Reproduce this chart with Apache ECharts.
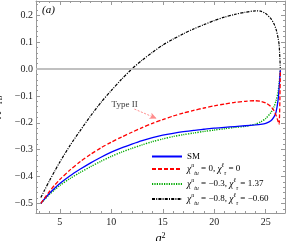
<!DOCTYPE html>
<html><head><meta charset="utf-8">
<script src="https://cdn.jsdelivr.net/npm/echarts@6/dist/echarts.min.js"></script>
<style>html,body{margin:0;padding:0;background:#fff}#c{width:288px;height:241px}</style>
</head><body><div id="c"></div>
<script>
// ---- data ----
const q2 = [3.16, 3.5, 4, 4.5, 5, 6, 7, 8, 9, 10, 11, 12, 13, 14, 15, 16, 17, 18, 19, 20, 21, 22, 23, 24, 24.5, 25, 25.5, 25.8, 26.0, 26.2, 26.3, 26.42];
const smVals = [-0.500,-0.484,-0.462,-0.443,-0.426,-0.397,-0.372,-0.349,-0.328,-0.309,-0.293,-0.279,-0.266,-0.255,-0.246,-0.239,-0.233,-0.228,-0.224,-0.220,-0.217,-0.214,-0.211,-0.208,-0.206,-0.202,-0.192,-0.178,-0.160,-0.115,-0.070,0];
const redVals = [-0.500,-0.481,-0.455,-0.432,-0.411,-0.375,-0.344,-0.317,-0.293,-0.272,-0.253,-0.235,-0.218,-0.202,-0.188,-0.175,-0.164,-0.154,-0.145,-0.137,-0.130,-0.124,-0.120,-0.118,-0.120,-0.126,-0.140,-0.155,-0.172,-0.195,-0.205,0];
const greenVals = [-0.500,-0.486,-0.466,-0.449,-0.433,-0.407,-0.384,-0.363,-0.343,-0.325,-0.309,-0.295,-0.282,-0.270,-0.260,-0.251,-0.244,-0.238,-0.232,-0.227,-0.222,-0.217,-0.213,-0.205,-0.197,-0.184,-0.162,-0.140,-0.118,-0.085,-0.055,0];
const blackVals = [-0.478,-0.452,-0.415,-0.380,-0.346,-0.284,-0.228,-0.174,-0.124,-0.080,-0.038,0.000,0.033,0.062,0.089,0.111,0.131,0.149,0.165,0.180,0.193,0.203,0.211,0.216,0.215,0.206,0.187,0.168,0.148,0.115,0.090,0];

const xTickValues = [5, 10, 15, 20, 25];
const xTickLabels = ['5', '10', '15', '20', '25'];
const xMinorValues = [3,4,6,7,8,9,11,12,13,14,16,17,18,19,21,22,23,24,26];
const yTickValues = [-0.5, -0.4, -0.3, -0.2, -0.1, 0, 0.1, 0.2];
const yTickLabels = ['\u22120.5', '\u22120.4', '\u22120.3', '\u22120.2', '\u22120.1', '0.0', '0.1', '0.2'];
const yMinorValues = [-0.52,-0.48,-0.46,-0.44,-0.42,-0.38,-0.36,-0.34,-0.32,-0.28,-0.26,-0.24,-0.22,-0.18,-0.16,-0.14,-0.12,-0.08,-0.06,-0.04,-0.02,0.02,0.04,0.06,0.08,0.12,0.14,0.16,0.18,0.22,0.24];

const names = ['SM', 'r', 'g', 'k'];
const typeIIText = [11.3, -0.134];
const arrowFrom = [12.25, -0.149];
const arrowTo = [14.4, -0.184];

const X_MIN = 2.69, X_MAX = 26.87, Y_MIN = -0.5353, Y_MAX = 0.2528;
const FONT = 'Liberation Serif';
const FRAME = '#999';

function pair(vals) { return q2.map((x, i) => [x, vals[i]]); }

const legendLabels = {
  SM: '{n|SM}',
  r: '{i|\u03c7}{sup|u}{sub|tu}{n| = 0, }{i|\u03c7}{sup|\u2113}{sub|\u03c4}{n| = 0}',
  g: '{i|\u03c7}{sup|u}{sub|tu}{n| = \u22120.3, }{i|\u03c7}{sup|\u2113}{sub|\u03c4}{n| = 1.37}',
  k: '{i|\u03c7}{sup|u}{sub|tu}{n| = \u22120.8, }{i|\u03c7}{sup|\u2113}{sub|\u03c4}{n| = \u22120.60}'
};
const rich = {
  n: {fontFamily: FONT, fontSize: 9, lineHeight: 14, color: '#000'},
  i: {fontFamily: FONT, fontSize: 9.5, fontStyle: 'italic', lineHeight: 14, color: '#000'},
  sup: {fontFamily: FONT, fontSize: 6, fontStyle: 'italic', lineHeight: 8, verticalAlign: 'top', color: '#000'},
  sub: {fontFamily: FONT, fontSize: 6, fontStyle: 'italic', lineHeight: 8, verticalAlign: 'bottom', color: '#000'}
};

function xAxisDef(pos, ticks, len, labels, line) {
  return {
    type: 'value', min: X_MIN, max: X_MAX, position: pos, gridIndex: 0,
    axisLine: {show: line, onZero: false, lineStyle: {color: FRAME, width: 1}},
    axisTick: {show: true, inside: true, length: len, customValues: ticks, lineStyle: {color: FRAME}},
    axisLabel: labels ? {show: true, customValues: xTickValues, margin: 4,
      formatter: v => xTickLabels[xTickValues.indexOf(Math.round(v))] || '',
      fontFamily: FONT, fontSize: 10, color: '#222'} : {show: false},
    splitLine: {show: false}
  };
}
function yAxisDef(pos, ticks, len, labels, line) {
  return {
    type: 'value', min: Y_MIN, max: Y_MAX, position: pos, gridIndex: 0,
    axisLine: {show: line, onZero: false, lineStyle: {color: FRAME, width: 1}},
    axisTick: {show: true, inside: true, length: len, customValues: ticks, lineStyle: {color: FRAME}},
    axisLabel: labels ? {show: true, customValues: yTickValues, margin: 3,
      formatter: v => { const k = yTickValues.findIndex(t => Math.abs(t - v) < 1e-6); return k >= 0 ? yTickLabels[k] : ''; },
      fontFamily: FONT, fontSize: 10, color: '#222'} : {show: false},
    splitLine: {show: false}
  };
}

const xAx = [xAxisDef('bottom', xTickValues, 4, true, true), xAxisDef('bottom', xMinorValues, 2, false, false),
             xAxisDef('top', xTickValues, 4, false, true), xAxisDef('top', xMinorValues, 2, false, false)];
xAx[0].name = '{i|q}{sup|2}';
xAx[0].nameLocation = 'middle';
xAx[0].nameGap = 13;
xAx[0].nameTextStyle = {color: '#000', rich: {
  i: {fontFamily: FONT, fontSize: 12, fontStyle: 'italic', lineHeight: 14, color: '#000'},
  sup: {fontFamily: FONT, fontSize: 8, lineHeight: 9, verticalAlign: 'top', color: '#000'}}};
const yAx = [yAxisDef('left', yTickValues, 4, true, true), yAxisDef('left', yMinorValues, 2, false, false),
             yAxisDef('right', yTickValues, 4, false, true), yAxisDef('right', yMinorValues, 2, false, false)];
yAx[0].name = '{i|A}{sup|\u03c0,\u03c4}{sub|FB}';
yAx[0].nameLocation = 'middle';
yAx[0].nameGap = 27;
yAx[0].nameRotate = 90;
yAx[0].nameTextStyle = {color: '#000', rich: {
  i: {fontFamily: FONT, fontSize: 11, fontStyle: 'italic', lineHeight: 12, color: '#000'},
  sup: {fontFamily: FONT, fontSize: 7, fontStyle: 'italic', lineHeight: 7, verticalAlign: 'top', color: '#000'},
  sub: {fontFamily: FONT, fontSize: 7, lineHeight: 7, verticalAlign: 'bottom', color: '#000'}}};

function lineSeries(name, vals, color, type, w) {
  return {name: name, type: 'line', data: pair(vals), xAxisIndex: 0, yAxisIndex: 0,
    showSymbol: false, symbol: 'circle', smooth: 0.25,
    lineStyle: {color: color, width: w, type: type}, itemStyle: {color: color}, z: 3};
}

const option = {
  animation: false,
  grid: {left: 36, right: 3, top: 1, bottom: 28, containLabel: false, outerBoundsMode: 'none'},
  xAxis: xAx,
  yAxis: yAx,
  legend: {
    data: names, orient: 'vertical', left: 146, top: 147, itemWidth: 30, itemHeight: 10, itemGap: 1,
    itemStyle: {opacity: 0},
    formatter: n => legendLabels[n], textStyle: {rich: rich, fontFamily: FONT, fontSize: 9}, selectedMode: false
  },
  graphic: [{type: 'text', left: 42, top: 5, style: {text: '(a)', font: 'italic 11px "Liberation Serif"', fill: '#000'}}],
  series: [
    {type: 'line', data: [], xAxisIndex: 0, yAxisIndex: 0, silent: true,
      markLine: {silent: true, animation: false, symbol: 'none', label: {show: false},
        data: [
          {yAxis: 0, lineStyle: {color: '#c0c0c0', width: 2, type: 'solid'}},
          [{coord: arrowFrom, symbol: 'none', lineStyle: {color: '#ff8c8c', width: 1, type: [2, 1.5]}}, {coord: arrowTo, symbol: 'arrow', symbolSize: [5, 7]}]
        ]}},
    lineSeries('k', blackVals, '#000000', [3, 1.2, 1, 1.2], 1.2),
    lineSeries('g', greenVals, '#00aa00', [1.2, 1.2], 1.4),
    lineSeries('SM', smVals, '#0000ff', 'solid', 1.3),
    lineSeries('r', redVals, '#ff0000', [4, 2], 1.3),
    {type: 'scatter', data: [typeIIText], symbolSize: 0, xAxisIndex: 0, yAxisIndex: 0, silent: true,
      label: {show: true, position: 'inside', formatter: 'Type II', fontFamily: FONT, fontSize: 9, color: '#000'}}
  ]
};
const chart = echarts.init(document.getElementById('c'), null, {renderer: 'canvas'});
chart.setOption(option);
</script></body></html>
